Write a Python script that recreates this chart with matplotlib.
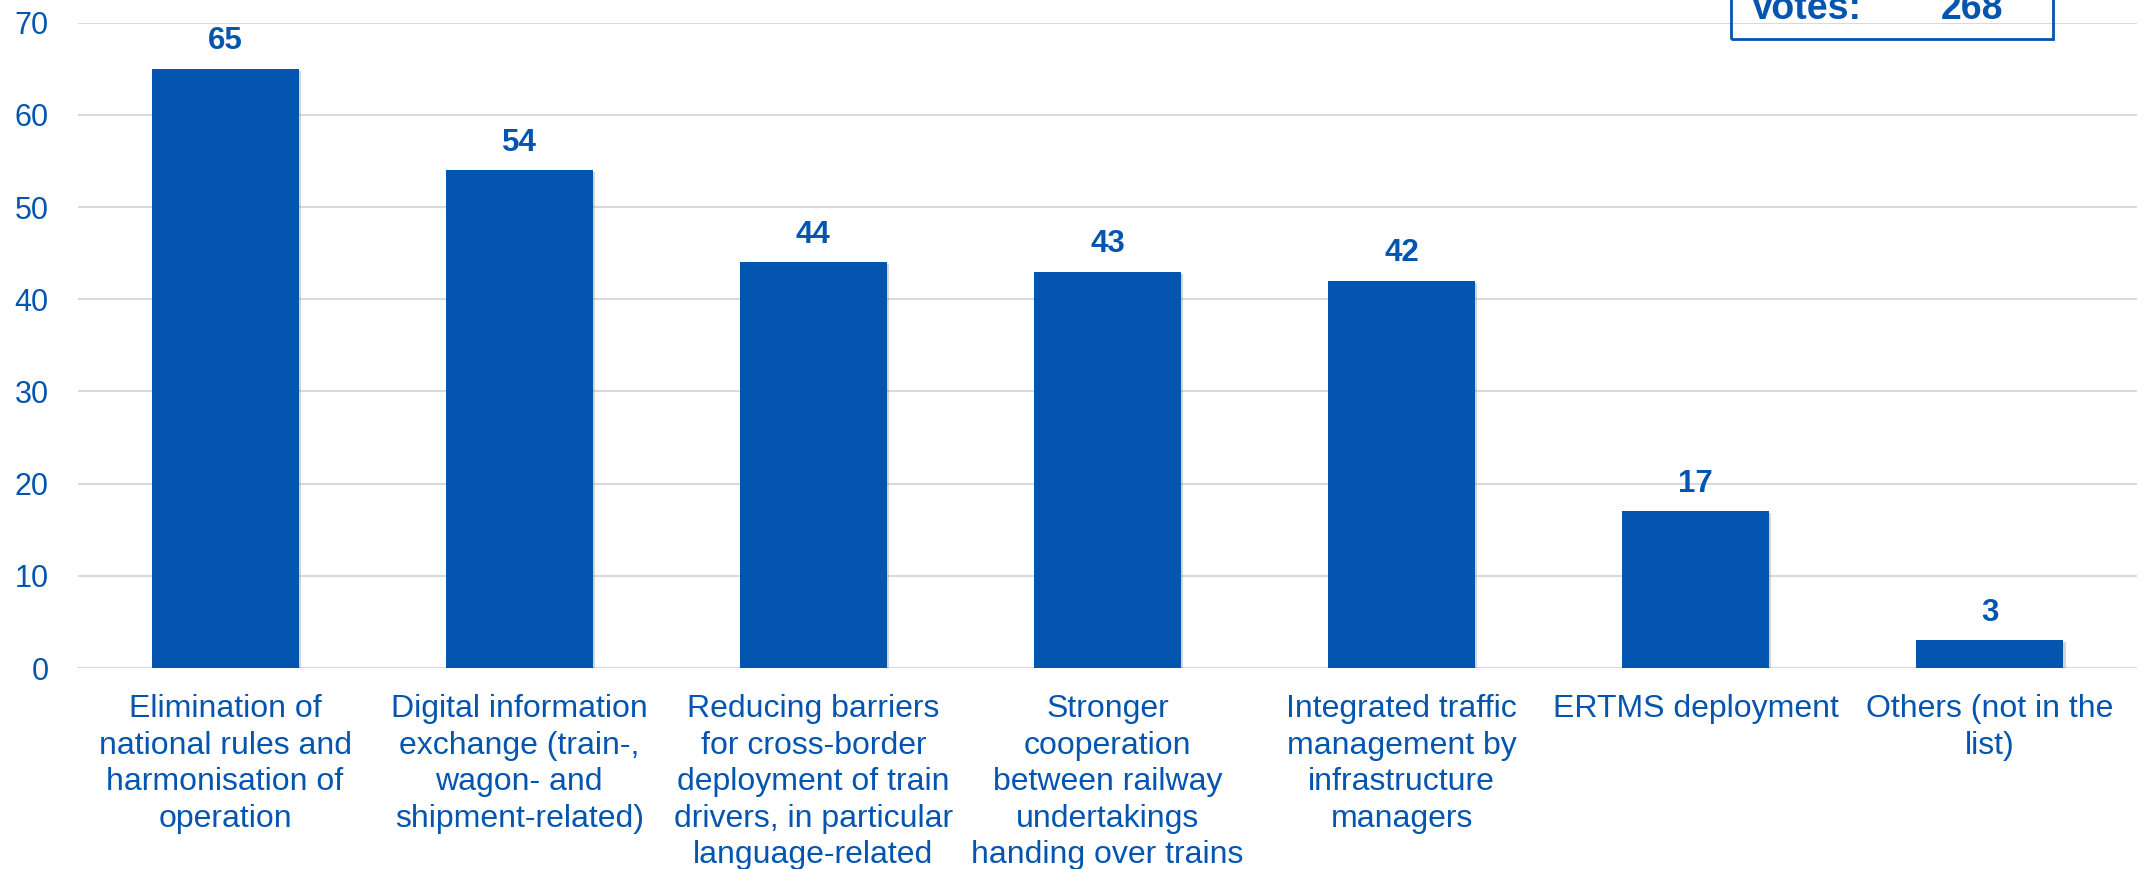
import matplotlib
matplotlib.use("Agg")
import matplotlib.pyplot as plt
from matplotlib.patches import Rectangle
import matplotlib.patheffects as pe

categories = [
    "Elimination of\nnational rules and\nharmonisation of\noperation",
    "Digital information\nexchange (train-,\nwagon- and\nshipment-related)",
    "Reducing barriers\nfor cross-border\ndeployment of train\ndrivers, in particular\nlanguage-related",
    "Stronger\ncooperation\nbetween railway\nundertakings\nhanding over trains",
    "Integrated traffic\nmanagement by\ninfrastructure\nmanagers",
    "ERTMS deployment",
    "Others (not in the\nlist)",
]
values = [65, 54, 44, 43, 42, 17, 3]
yticks = [0, 10, 20, 30, 40, 50, 60, 70]
votes_label = "Votes:"
votes_total = "268"

BLUE = "#0455B0"
GRID = "#D9D9D9"

plt.rcParams['font.family'] = ['Liberation Sans', 'DejaVu Sans']

W, H = 2144, 869
fig = plt.figure(figsize=(W / 100, H / 100), dpi=100)
ax = fig.add_axes([78 / W, (H - 668) / H, 2059 / W, (668 - 22.7) / H])

x = list(range(len(values)))
bars = ax.bar(x, values, width=0.5, color=BLUE, zorder=3)
for b in bars:
    b.set_path_effects([pe.SimplePatchShadow(offset=(1.5, -1.5), shadow_rgbFace='#888888', alpha=0.35),
                        pe.Normal()])
ax.set_xlim(-0.5, len(values) - 0.5)
ax.set_ylim(0, 70)
ax.set_yticks(yticks)
ax.grid(axis='y', color=GRID, linewidth=1.5, zorder=0)
ax.set_axisbelow(True)
for s in ax.spines.values():
    s.set_visible(False)
ax.set_xticks(x)
ax.set_xticklabels(categories, fontsize=23, color=BLUE, linespacing=1.28, va='top')
ax.tick_params(axis='x', length=0, pad=19)
ax.tick_params(axis='y', length=0, pad=21, labelsize=22, labelcolor=BLUE)

for xi, v in zip(x, values):
    ax.annotate(str(v), (xi, v), xytext=(0, 9), textcoords='offset points',
                ha='center', va='bottom', fontsize=22.5, fontweight='bold', color=BLUE)

# Votes box (partially clipped at top)
box = Rectangle((1731 / W, (H - 39) / H), (2053 - 1731) / W, 60 / H,
                transform=fig.transFigure, fill=False, edgecolor=BLUE,
                linewidth=2, clip_on=False)
fig.add_artist(box)
fig.text(1750 / W, (H - 19) / H, votes_label, fontsize=27, fontweight='bold',
         color=BLUE, ha='left', va='baseline')
fig.text(2003 / W, (H - 19) / H, votes_total, fontsize=27, fontweight='bold',
         color=BLUE, ha='right', va='baseline')

fig.savefig("out.png", dpi=100)
